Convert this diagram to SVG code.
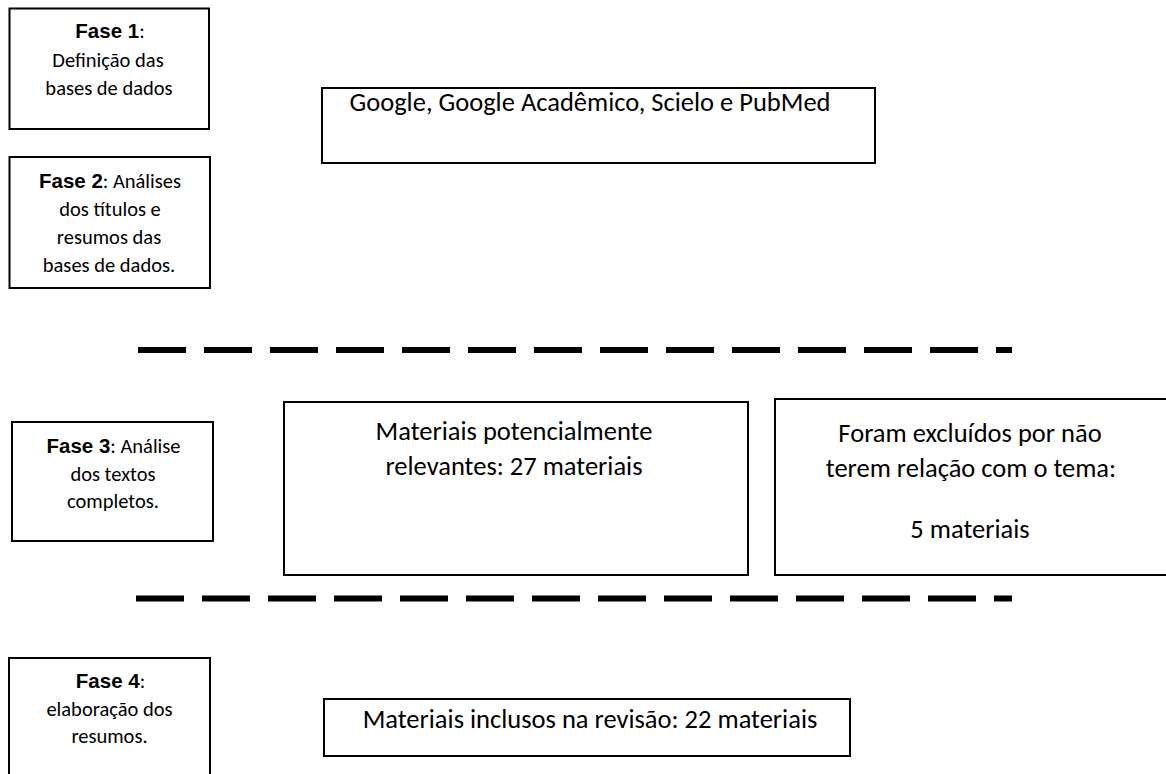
<svg xmlns="http://www.w3.org/2000/svg" width="1166" height="774" viewBox="0 0 1166 774">
<style>
.box{fill:#fff;stroke:#000;stroke-width:2}
.t{font-family:Carlito,Lato,"Liberation Sans",sans-serif;fill:#000;text-anchor:middle}
.s{font-size:20.5px}
.l{font-size:26.5px}
.b{font-family:"Liberation Sans",Arial,sans-serif;font-weight:bold;font-size:20.5px}
.dash{stroke:#000;stroke-width:6;stroke-dasharray:48 18;fill:none}
</style>
<rect width="1166" height="774" fill="#fff"/>
<g id="fase1">
<rect class="box" x="9.5" y="8.5" width="199.5" height="120.5"/>
<text class="t s" x="110" y="38"><tspan class="b">Fase 1</tspan>:</text>
<text class="t s" x="108" y="67">Definição das</text>
<text class="t s" x="109" y="95">bases de dados</text>
</g>
<g id="fase2">
<rect class="box" x="9.5" y="157" width="200.5" height="131"/>
<text class="t s" x="110" y="188"><tspan class="b">Fase 2</tspan>: Análises</text>
<text class="t s" x="110" y="216">dos títulos e</text>
<text class="t s" x="109" y="244">resumos das</text>
<text class="t s" x="109" y="272">bases de dados.</text>
</g>
<g id="bases">
<rect class="box" x="322" y="88" width="553" height="75"/>
<text class="t l" x="590" y="111">Google, Google Acadêmico, Scielo e PubMed</text>
</g>
<g id="dividers">
<line class="dash" x1="138" y1="350" x2="1012" y2="350"/>
<line class="dash" x1="136" y1="598.5" x2="1012" y2="598.5"/>
</g>
<g id="fase3">
<rect class="box" x="12" y="422" width="201" height="119"/>
<text class="t s" x="113.5" y="453"><tspan class="b">Fase 3</tspan>: Análise</text>
<text class="t s" x="113" y="481">dos textos</text>
<text class="t s" x="113" y="508">completos.</text>
</g>
<g id="relevantes">
<rect class="box" x="284" y="402" width="464" height="173"/>
<text class="t l" x="514" y="440">Materiais potencialmente</text>
<text class="t l" x="514" y="475">relevantes: 27 materiais</text>
</g>
<g id="excluidos">
<rect class="box" x="775" y="399" width="420" height="176"/>
<text class="t l" x="970" y="442">Foram excluídos por não</text>
<text class="t l" x="971" y="477">terem relação com o tema:</text>
<text class="t l" x="970" y="538">5 materiais</text>
</g>
<g id="fase4">
<rect class="box" x="9" y="658" width="201" height="140"/>
<text class="t s" x="110.5" y="688"><tspan class="b">Fase 4</tspan>:</text>
<text class="t s" x="109.5" y="716">elaboração dos</text>
<text class="t s" x="109.5" y="743">resumos.</text>
</g>
<g id="inclusos">
<rect class="box" x="324" y="699" width="526" height="57"/>
<text class="t l" x="590" y="728">Materiais inclusos na revisão: 22 materiais</text>
</g>
</svg>
